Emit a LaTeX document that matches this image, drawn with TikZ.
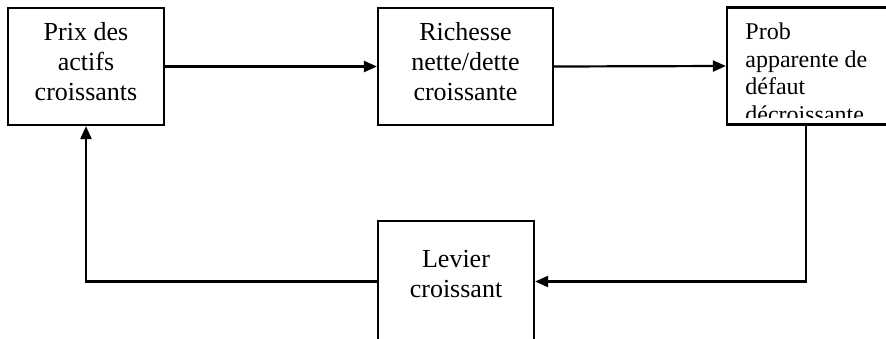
\documentclass[tikz,border=0pt]{standalone}
\usepackage{fontspec}
\setmainfont{Liberation Serif}
\usetikzlibrary{arrows.meta}
\begin{document}
\begin{tikzpicture}[x=0.5pt,y=-0.5pt,
  box/.style={draw, line width=1.1pt, rectangle, inner sep=0pt},
  lbl/.style={font=\fontsize{13}{15}\selectfont, align=center, inner sep=0pt, anchor=base},
  lblsmall/.style={font=\fontsize{12}{13.75}\selectfont, align=left, inner sep=0pt, anchor=base west},
  conn/.style={line width=1.1pt, -{Triangle[length=6.5pt,width=5.5pt]}}]
\clip (0,0) rectangle (886,338);
\fill[white] (0,0) rectangle (886,338);
\node[box, minimum width=78pt, minimum height=58.5pt] (b1) at (86,66.5) {};
\node[box, minimum width=87.5pt, minimum height=58.5pt] (b2) at (465.5,66.5) {};
\node[box, minimum width=90pt, minimum height=58.5pt] (b3) at (817,66) {};
\node[box, minimum width=78pt, minimum height=60.5pt] (b4) at (456,281.5) {};
\node[lbl] (t1) at (86,100) {Prix des\\actifs\\croissants};
\node[lbl] (t2) at (465.5,100) {Richesse\\nette/dette\\croissante};
\begin{scope}
\clip (728,7) rectangle (886,117);
\node[lblsmall] (t3) at (745,122) {Prob\\apparente de\\défaut\\décroissante};
\end{scope}
\node[lbl] (t4) at (456,297) {Levier\\croissant};
\draw[conn] (b1.east) -- (b2.west);
\draw[conn] (b2.east) -- (b3.west);
\draw[conn] ([xshift=40pt]b3.south west) |- (b4.east);
\draw[conn] (b4.west) -| (b1.south);
\end{tikzpicture}
\end{document}
